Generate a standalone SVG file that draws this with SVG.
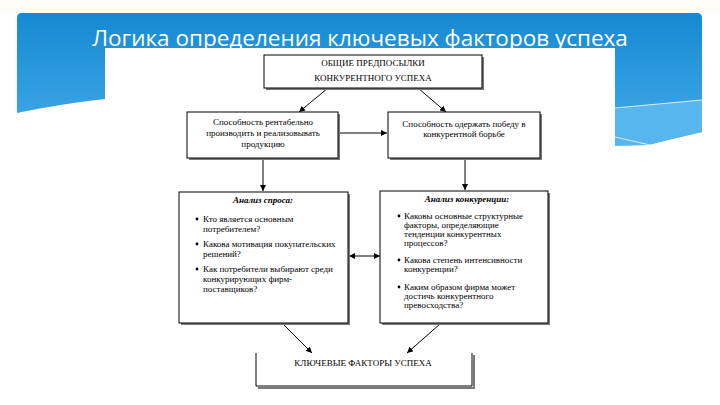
<svg xmlns="http://www.w3.org/2000/svg" width="720" height="405" viewBox="0 0 720 405">
<defs>
<linearGradient id="bg" x1="0" y1="0" x2="0" y2="1">
<stop offset="0" stop-color="#1689d2"/>
<stop offset="1" stop-color="#45adec"/>
</linearGradient>
<marker id="ah" viewBox="0 0 6 6" refX="6" refY="3" markerWidth="6" markerHeight="6" markerUnits="userSpaceOnUse" orient="auto-start-reverse">
<path d="M0,0 L6,3 L0,6 z" fill="#000"/>
</marker>
<style>
.box{fill:#fff;stroke:#000;stroke-width:1}
.sh{fill:#7a7a7a}
.t{font-family:"Liberation Serif","Times New Roman",serif;font-size:9px;fill:#000}
.c{text-anchor:middle}
.h{font-weight:bold;font-style:italic}
.cn{fill:none;stroke:#000;stroke-width:1;marker-end:url(#ah)}
</style>
</defs>
<rect width="720" height="405" fill="#fff"/>
<rect width="720" height="12" fill="#fdfdf6"/>
<path d="M17,18 Q17,13 22,13 H697 Q702,13 702,18 V132 Q675,138 648,145 L105,148 L105,99 Q60,104 17,113 Z" fill="url(#bg)"/>
<path d="M615,108 L702,100 V132 Q675,138 648,145 L615,146 Z" fill="#58b6ee"/>
<path d="M615,108 L702,100" stroke="#d8f0ff" stroke-width="1" fill="none"/>
<path d="M615,137 L650,145" stroke="#d8f0ff" stroke-width="1" fill="none"/>
<rect x="105" y="48" width="510" height="357" fill="#fff"/>
<text x="360" y="46" text-anchor="middle" font-family="'Open Sans','Noto Sans',sans-serif" font-size="22.5" fill="#fff">Логика определения ключевых факторов успеха</text>

<g id="connectors">
<line class="cn" x1="328" y1="88" x2="299" y2="112"/>
<line class="cn" x1="418" y1="88" x2="446" y2="112"/>
<line class="cn" x1="338" y1="133" x2="387" y2="133"/>
<line class="cn" x1="263" y1="158" x2="263" y2="191"/>
<line class="cn" x1="465" y1="158" x2="465" y2="190"/>
<line class="cn" x1="349" y1="256" x2="380" y2="256" marker-start="url(#ah)"/>
<line class="cn" x1="283" y1="324" x2="312" y2="353"/>
<line class="cn" x1="440" y1="324" x2="407" y2="353"/>
</g>

<g id="node-top">
<rect class="sh" x="266" y="57" width="218" height="33"/>
<rect class="box" x="264" y="55" width="218" height="33"/>
<text class="t c" x="373" y="66" font-size="9.5">ОБЩИЕ ПРЕДПОСЫЛКИ</text>
<text class="t c" x="373" y="81" font-size="9.5">КОНКУРЕНТНОГО УСПЕХА</text>
</g>

<g id="node-ability1">
<rect class="sh" x="189" y="114" width="151" height="46"/>
<rect class="box" x="187" y="112" width="151" height="46"/>
<text class="t c" x="263" y="125">Способность рентабельно</text>
<text class="t c" x="263" y="136">производить и реализовывать</text>
<text class="t c" x="263" y="147">продукцию</text>
</g>

<g id="node-ability2">
<rect class="sh" x="390" y="114" width="152" height="46"/>
<rect class="box" x="388" y="112" width="152" height="46"/>
<text class="t c" x="464" y="127">Способность одержать победу в</text>
<text class="t c" x="464" y="137">конкурентной борьбе</text>
</g>

<g id="node-demand">
<rect class="sh" x="181" y="194" width="169" height="131"/>
<rect class="box" x="179" y="192" width="169" height="131"/>
<text class="t c h" x="263" y="203">Анализ спроса:</text>
<circle cx="197" cy="219" r="1.4"/>
<text class="t" x="203" y="222">Кто является основным</text>
<text class="t" x="203" y="232">потребителем?</text>
<circle cx="197" cy="244" r="1.4"/>
<text class="t" x="203" y="247">Какова мотивация покупательских</text>
<text class="t" x="203" y="257">решений?</text>
<circle cx="197" cy="269" r="1.4"/>
<text class="t" x="203" y="272">Как потребители выбирают среди</text>
<text class="t" x="203" y="282">конкурирующих фирм-</text>
<text class="t" x="203" y="292">поставщиков?</text>
</g>

<g id="node-competition">
<rect class="sh" x="382" y="193" width="168" height="132"/>
<rect class="box" x="380" y="191" width="168" height="132"/>
<text class="t c h" x="467" y="202">Анализ конкуренции:</text>
<circle cx="399" cy="216" r="1.4"/>
<text class="t" x="404" y="219">Каковы основные структурные</text>
<text class="t" x="404" y="228">факторы, определяющие</text>
<text class="t" x="404" y="237">тенденции конкурентных</text>
<text class="t" x="404" y="246">процессов?</text>
<circle cx="399" cy="260" r="1.4"/>
<text class="t" x="404" y="263">Какова степень интенсивности</text>
<text class="t" x="404" y="272">конкуренции?</text>
<circle cx="399" cy="287" r="1.4"/>
<text class="t" x="404" y="290">Каким образом фирма может</text>
<text class="t" x="404" y="299">достичь конкурентного</text>
<text class="t" x="404" y="308">превосходства?</text>
</g>

<g id="node-key">
<path d="M258,388 H474 V355" fill="none" stroke="#7a7a7a" stroke-width="2"/>
<path d="M256,353 V386 H472 V353" fill="none" stroke="#000" stroke-width="1"/>
<text class="t c" x="363" y="366" font-size="10.5">КЛЮЧЕВЫЕ ФАКТОРЫ УСПЕХА</text>
</g>
</svg>
